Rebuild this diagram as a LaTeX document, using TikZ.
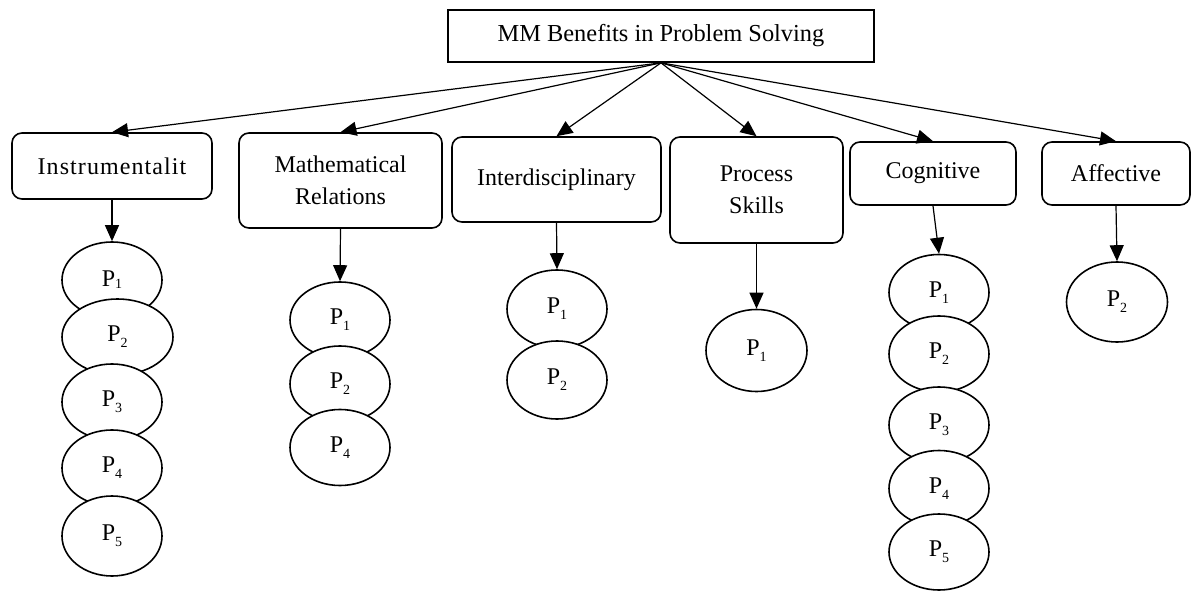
\documentclass[tikz,border=0pt]{standalone}
\usepackage{fontspec}
\setmainfont{Liberation Serif}
\usetikzlibrary{shapes.geometric,arrows.meta}

\newcommand{\psub}[2][-6pt]{P\raisebox{#1}{\fontsize{14}{14}\selectfont #2}}

\begin{document}
\begin{tikzpicture}[x=1pt,y=-1pt,
	headbox/.style={draw, line width=1.7pt, minimum width=426pt, minimum height=52pt, font=\fontsize{24.4}{30}\selectfont},
	cat/.style={draw, rounded corners=10pt, line width=1.6pt, align=center, inner sep=0pt, font=\fontsize{24}{32}\selectfont},
	pnode/.style={draw, ellipse, fill=white, line width=1.6pt, minimum width=100pt, minimum height=76pt, inner sep=0pt, font=\fontsize{24}{28}\selectfont},
	link/.style={-{Triangle[length=16pt,width=14pt]}, line width=1.2pt}]
				\useasboundingbox (0,0) rectangle (1192,591);

				\node[headbox] (mm) at (661,36) {MM Benefits in Problem Solving};

				% categorie
				\node[cat, minimum width=200pt, minimum height=66pt] (ins) at (112,166) {\addfontfeature{LetterSpace=4.5}Instrumentalit};
				\node[cat, minimum width=203pt, minimum height=95pt] (mat) at (340.5,180.5) {Mathematical\\Relations};
				\node[cat, minimum width=209pt, minimum height=85pt] (int) at (556.5,179.5) {Interdisciplinary};
				\node[cat, minimum width=173pt, minimum height=106pt] (pro) at (756.5,190) {Process\\Skills};
				\node[cat, minimum width=166pt, minimum height=63pt] (cog) at (933,173.5) {Cognitive};
				\node[cat, minimum width=148pt, minimum height=63pt] (aff) at (1116,173.5) {Affective};

				% colonna 1
				\node[pnode] (ins1) at (112,280) {\psub[-2pt]{1}};
				\node[pnode, minimum width=111pt] (ins2) at (117.5,337) {\psub{2}};
				\node[pnode] (ins3) at (112,402) {\psub{3}};
				\node[pnode] (ins4) at (112,468) {\psub{4}};
				\node[pnode, minimum height=80pt] (ins5) at (112,536) {\psub{5}};

				% colonna 2
				\node[pnode] (mat1) at (340,320) {\psub{1}};
				\node[pnode] (mat2) at (340,384) {\psub{2}};
				\node[pnode] (mat4) at (340,447.5) {\psub{4}};

				% colonna 3
				\node[pnode, minimum height=78pt] (int1) at (557,309) {\psub{1}};
				\node[pnode, minimum height=78pt] (int2) at (557,380) {\psub{2}};

				% colonna 4
				\node[pnode, minimum width=101pt, minimum height=82pt] (pro1) at (756.5,350.5) {\psub{1}};

				% colonna 5
				\node[pnode] (cog1) at (939,292.5) {\psub{1}};
				\node[pnode] (cog2) at (939,354) {\psub{2}};
				\node[pnode] (cog3) at (939,425) {\psub{3}};
				\node[pnode] (cog4) at (939,488.5) {\psub{4}};
				\node[pnode] (cog5) at (939,552) {\psub{5}};

				% colonna 6
				\node[pnode, minimum width=101pt, minimum height=80pt] (aff2) at (1117,302) {\psub{2}};

				% dal titolo alle categorie
				\draw[link] (mm.south) -- (ins.north);
				\draw[link] (mm.south) -- (mat.north);
				\draw[link] (mm.south) -- (int.north);
				\draw[link] (mm.south) -- (pro.north);
				\draw[link] (mm.south) -- (cog.north);
				\draw[link] (mm.south) -- (aff.north);

				% dalle categorie ai P
				\draw[link] (ins.south) -- (ins1.north);
				\draw[link] (mat.south) -- (mat1.north);
				\draw[link] (int.south) -- (int1.north);
				\draw[link] (pro.south) -- (pro1.north);
				\draw[link] (cog.south) -- (cog1.north);
				\draw[link] (aff.south) -- (aff2.north);
			\end{tikzpicture}
\end{document}
